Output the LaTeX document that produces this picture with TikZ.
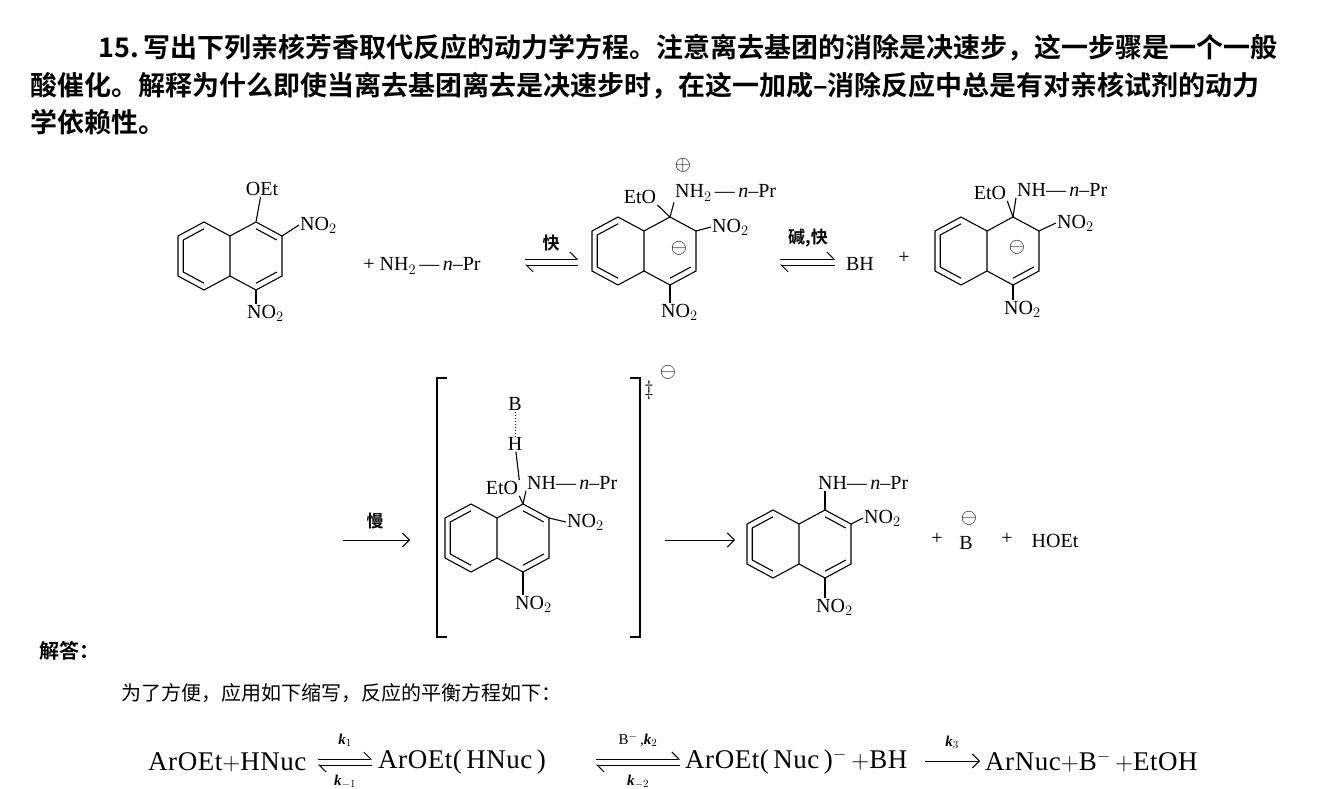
\documentclass[tikz,border=0pt]{standalone}
\usepackage{fontspec}
\setmainfont{Liberation Serif}
\newfontfamily\eqfont[LetterSpace=2]{Liberation Serif}
\newfontfamily\cjk{Noto Sans CJK SC}
\newfontfamily\cjkb{Noto Sans CJK SC Bold}
\usetikzlibrary{calc,arrows.meta}
\newcommand\naph[4]{%
\begin{scope}[shift={(#2,#3)}]
\coordinate (#1R1) at (26,-34); \coordinate (#1R2) at (52,-20);
\coordinate (#1R3) at (52,20); \coordinate (#1R4) at (26,34);
\coordinate (#1S2) at (0,20); \coordinate (#1S1) at (0,-20);
\coordinate (#1L1) at (-26,-34); \coordinate (#1L2) at (-52,-20);
\coordinate (#1L3) at (-52,20); \coordinate (#1L4) at (-26,34);
\coordinate (#1RC) at (26,0); \coordinate (#1LC) at (-26,0);
\draw[bond] (#1S1)--(#1R1)--(#1R2)--(#1R3)--(#1R4)--(#1S2)--(#1L4)--(#1L3)--(#1L2)--(#1L1)--cycle (#1S1)--(#1S2);
\draw[bond] ($(#1L1)!0.2!(#1LC)$)--($(#1L2)!0.2!(#1LC)$)
 ($(#1L3)!0.2!(#1LC)$)--($(#1L2)!0.2!(#1LC)$)
 ($(#1L3)!0.2!(#1LC)$)--($(#1L4)!0.2!(#1LC)$)
 ($(#1R3)!0.2!(#1RC)$)--($(#1R4)!0.2!(#1RC)$);
\ifnum#4=1 \draw[bond] ($(#1R1)!0.2!(#1RC)$)--($(#1R2)!0.2!(#1RC)$);\fi
\end{scope}}
\tikzset{bond/.style={line width=1.1pt},
 lab/.style={font=\fontsize{20}{22}\selectfont,inner sep=1pt},
 hdr/.style={font=\cjkb\fontsize{27}{30}\selectfont,anchor=west,inner sep=0pt},
 eq/.style={font=\eqfont\fontsize{27}{30}\selectfont,inner sep=0pt,anchor=west},
 kl/.style={font=\fontsize{15}{16}\selectfont\bfseries\itshape},
 har/.style={line width=1pt,-{Straight Barb[left,length=7pt]}},
 arr/.style={line width=1pt,-{Straight Barb[length=7pt]}}}
\begin{document}
\begin{tikzpicture}[x=1pt,y=-1pt]
\useasboundingbox[fill=white] (0,0) rectangle (1319,789);
\node[hdr] (t1) at (98,48) {15.\,写出下列亲核芳香取代反应的动力学方程。注意离去基团的消除是决速步，这一步骤是一个一般};
\node[hdr] (t2) at (30,86) {酸催化。解释为什么即使当离去基团离去是决速步时，在这一加成–消除反应中总是有对亲核试剂的动力};
\node[hdr] (t3) at (30,122) {学依赖性。};
% molecule 1
\naph{a}{230}{256}{1}
\node[lab] (aOEt) at (262,189) {OEt};
\draw[bond] (aR1)--(aOEt);
\node[lab,anchor=west] (aN2) at (299,225) {NO$_2$};
\draw[bond] (aR2)--(aN2.west);
\node[lab,anchor=west] (aN4) at (246,313) {NO$_2$};
\draw[bond] (aR4)--(aR4|-aN4.north);
\node[lab] (amine) at (422,266) {+ NH$_2$\,---\,\textit{n}--Pr};
\coordinate (e1a) at (525,259); \coordinate (e1b) at (578,259);
\coordinate (e1c) at (578,265); \coordinate (e1d) at (525,265);
\draw[har] (e1a)--(e1b); \draw[har] (e1c)--(e1d);
\node[font=\cjkb\fontsize{17}{18}\selectfont] (k1) at (551,243) {快};
% molecule 2
\naph{b}{644}{251}{0}
\node[lab] (bEtO) at (640,197) {EtO};
\draw[bond] (bR1)--(bEtO.south east);
\node[lab,anchor=west] (bNH) at (674,193) {NH$_2$\,---\,\textit{n}--Pr};
\draw[bond] (bR1)--(bNH.south west);
\node[lab] (bplus) at (683,165) {$\oplus$};
\node[lab,anchor=west] (bN2) at (711,227) {NO$_2$};
\draw[bond] (bR2)--(bN2.west);
\node[lab] (bminus) at (679,248) {$\ominus$};
\node[lab,anchor=west] (bN4) at (660,312) {NO$_2$};
\draw[bond] (bR4)--(bR4|-bN4.north);
\coordinate (e2a) at (780,259); \coordinate (e2b) at (835,259);
\coordinate (e2c) at (835,265); \coordinate (e2d) at (780,265);
\draw[har] (e2a)--(e2b); \draw[har] (e2c)--(e2d);
\node[font=\cjkb\fontsize{17}{18}\selectfont] (k2) at (808,238) {碱,快};
\node[lab] (BH) at (860,264) {BH};
\node[lab] (pl1) at (904,258) {+};
% molecule 3
\naph{c}{987}{251}{0}
\node[lab] (cEtO) at (990,193) {EtO};
\draw[bond] (cR1)--(cEtO.south east);
\node[lab,anchor=west] (cNH) at (1016,190) {NH---\,\textit{n}--Pr};
\draw[bond] (cR1)--(cNH.south west);
\node[lab,anchor=west] (cN2) at (1056,223) {NO$_2$};
\draw[bond] (cR2)--(cN2.west);
\node[lab] (cminus) at (1017,247) {$\ominus$};
\node[lab,anchor=west] (cN4) at (1003,309) {NO$_2$};
\draw[bond] (cR4)--(cR4|-cN4.north);
% row 2
\coordinate (s1) at (343,540); \coordinate (s2) at (410,540);
\draw[arr] (s1)--(s2);
\node[font=\cjkb\fontsize{17}{18}\selectfont] (slow) at (375,521) {慢};
\coordinate (bl1) at (447,378); \coordinate (bl2) at (437,378);
\coordinate (bl3) at (437,637); \coordinate (bl4) at (447,637);
\draw[line width=1.1pt] (bl1)--(bl2)--(bl3)--(bl4);
\coordinate (br1) at (630,378); \coordinate (br2) at (640,378);
\coordinate (br3) at (640,637); \coordinate (br4) at (630,637);
\draw[line width=1.1pt] (br1)--(br2)--(br3)--(br4);
\node[lab] (ddag) at (649,390) {$\ddagger$};
\node[lab] (tsm) at (668,372) {$\ominus$};
\naph{d}{497}{538}{1}
\node[lab] (dEtO) at (502,488) {EtO};
\draw[bond] (dR1)--(dEtO.south east);
\node[lab,anchor=west] (dNH) at (526,483) {NH---\,\textit{n}--Pr};
\draw[bond] (dR1)--(dNH.south west);
\node[lab] (dB) at (515,404) {B};
\node[lab] (dH) at (515,444) {H};
\draw[line width=1pt,dotted] (dB)--(dH);
\draw[bond] (dH)--(dEtO.north east);
\node[lab,anchor=west] (dN2) at (566,522) {NO$_2$};
\draw[bond] (dR2)--(dN2.west);
\node[lab,anchor=west] (dN4) at (514,604) {NO$_2$};
\draw[bond] (dR4)--(dR4|-dN4.north);
\coordinate (f1) at (665,540); \coordinate (f2) at (735,540);
\draw[arr] (f1)--(f2);
\naph{e}{799}{544}{1}
\node[lab,anchor=west] (eNH) at (817,483) {NH---\,\textit{n}--Pr};
\draw[bond] (eR1)--(eR1|-eNH.south);
\node[lab,anchor=west] (eN2) at (863,518) {NO$_2$};
\draw[bond] (eR2)--(eN2.west);
\node[lab,anchor=west] (eN4) at (815,607) {NO$_2$};
\draw[bond] (eR4)--(eR4|-eN4.north);
\node[lab] (pl2) at (937,539) {+};
\node[lab] (eB) at (966,543) {B};
\node[lab] (eBm) at (969,518) {$\ominus$};
\node[lab] (pl3) at (1007,539) {+};
\node[lab] (HOEt) at (1055,541) {HOEt};
% answer
\node[font=\cjkb\fontsize{20}{22}\selectfont,anchor=west] (ans) at (36,651) {解答：};
\node[font=\cjk\fontsize{20}{22}\selectfont,anchor=west] (ans2) at (118,693) {为了方便，应用如下缩写，反应的平衡方程如下：};
\node[eq] (q1) at (148,762) {ArOEt$+$HNuc};
\coordinate (g1a) at (318,759); \coordinate (g1b) at (372,759);
\coordinate (g1c) at (372,765); \coordinate (g1d) at (318,765);
\draw[har] (g1a)--(g1b); \draw[har] (g1c)--(g1d);
\node[kl] (k1l) at (345,740) {k$_1$};
\node[kl] (km1) at (345,782) {k$_{-1}$};
\node[eq] (q2) at (378,762) {ArOEt(\,HNuc\,)};
\coordinate (g2a) at (596,759); \coordinate (g2b) at (680,759);
\coordinate (g2c) at (680,765); \coordinate (g2d) at (596,765);
\draw[har] (g2a)--(g2b); \draw[har] (g2c)--(g2d);
\node[font=\fontsize{15}{16}\selectfont] (k2l) at (638,740) {B$^-$\,,\textbf{\textit{k}}$_2$};
\node[kl] (km2) at (638,782) {k$_{-2}$};
\node[eq] (q3) at (685,762) {ArOEt(\,Nuc\,)$^-$\,$+$BH};
\coordinate (g3a) at (925,761); \coordinate (g3b) at (980,761);
\draw[arr] (g3a)--(g3b);
\node[kl] (k3l) at (952,742) {k$_3$};
\node[eq] (q4) at (985,762) {ArNuc$+$B$^-$\,$+$EtOH};
\end{tikzpicture}
\end{document}
